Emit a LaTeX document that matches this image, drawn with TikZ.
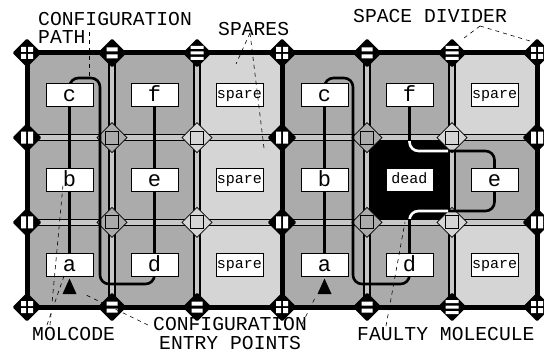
\documentclass[tikz,border=0pt]{standalone}
\usepackage{fontspec}
\newfontfamily\monof{Liberation Mono}
\definecolor{midg}{HTML}{ABABAB}
\definecolor{lightg}{HTML}{D5D5D5}
\definecolor{bandg}{HTML}{C8C8C8}
\tikzset{
  bandblack/.style={line width=7.5pt, black},
  bandgray/.style={line width=4.5pt, bandg},
  thickline/.style={line width=5pt, black},
  pics/bdiam/.style={code={\fill[black, rounded corners=1.2pt] (-14.5,0) -- (0,-14.5) -- (14.5,0) -- (0,14.5) -- cycle;}},
  pics/quadj/.style={code={\pic{bdiam}; \fill[white] (-6,-6) rectangle (-1,-1) (1,-6) rectangle (6,-1) (-6,1) rectangle (-1,6) (1,1) rectangle (6,6);}},
  pics/twoj/.style={code={\pic{bdiam}; \fill[white] (-5.5,-5.5) rectangle (5.5,-1.5) (-5.5,1.5) rectangle (5.5,5.5);}},
  pics/threej/.style={code={\pic{bdiam}; \fill[white] (-6.5,-7) rectangle (6.5,-4) (-6.5,-1.5) rectangle (6.5,1.5) (-6.5,4) rectangle (6.5,7);}},
  pics/iij/.style={code={\pic{bdiam}; \fill[white] (-6,-6) rectangle (-1,6) (1,-6) rectangle (6,6);}},
  pics/gj/.style={code={\filldraw[fill=#1, line width=0.8pt] (-15,0) -- (0,-15) -- (15,0) -- (0,15) -- cycle; \draw[line width=0.8pt] (-6.5,-6.5) rectangle (6.5,6.5);}},
  molbox/.style={draw, fill=white, line width=0.8pt, minimum width=47pt, minimum height=23pt, inner sep=0pt, font=\monof\fontsize{22}{22}\selectfont, text height=13pt, text depth=0pt},
  sparebox/.style={molbox, font=\monof\fontsize{15}{15}\selectfont, text height=7pt, text depth=0pt},
  cfgpath/.style={line width=2.6pt, rounded corners=9pt},
  leader/.style={line width=0.6pt, dash pattern=on 4pt off 4pt},
  lbl/.style={font=\monof\fontsize{19.7}{20}\selectfont, inner sep=0pt, anchor=base west},
  entrytri/.style={fill=black},
}
\begin{document}
\begin{tikzpicture}[x=1pt,y=-1pt]
\useasboundingbox (0,0) rectangle (544,353);
% cells
\foreach \i/\j/\c in {0/0/midg,0/1/midg,0/2/midg,1/0/midg,1/1/midg,1/2/midg,2/0/lightg,2/1/lightg,2/2/lightg,3/0/midg,3/1/midg,3/2/midg,4/0/midg,4/1/black,4/2/midg,5/0/lightg,5/1/midg,5/2/lightg}
  \fill[\c] ({27+85*\i},{53+84.667*\j}) rectangle ++(85,84.667);
% bands
\foreach \x in {112,197,367,452} \draw[bandblack] (\x,53) -- (\x,307);
\foreach \y in {137.67,222.33} \draw[bandblack] (27,\y) -- (537,\y);
\foreach \x in {112,197,367,452} \draw[bandgray] (\x,53) -- (\x,307);
\foreach \y in {137.67,222.33} \draw[bandgray] (27,\y) -- (537,\y);
% thick lines
\draw[thickline] (27,53) rectangle (537,307);
\draw[thickline] (282,53) -- (282,307);
% junctions
\foreach \x/\c in {112/midg,197/lightg,367/midg,452/lightg}
  \foreach \y in {137.67,222.33} \pic at (\x,\y) {gj=\c};
\foreach \x/\t in {27/quadj,112/twoj,197/threej,282/quadj,367/twoj,452/threej,537/quadj} \pic at (\x,53) {\t};
\foreach \x/\t in {27/quadj,112/twoj,197/twoj,282/quadj,367/twoj,452/threej,537/quadj} \pic at (\x,307) {\t};
\foreach \x in {27,282,537} \foreach \y in {137.67,222.33} \pic at (\x,\y) {iij};
% path coordinates
\coordinate (pa1) at (69.5,264.67);
\coordinate (pf1) at (154.5,95.33);
\coordinate (pa2) at (324.5,264.67);
\coordinate (pf2) at (409.5,95.33);
\draw[cfgpath] (pa1) -- (69.5,78) -- (100,78) -- (100,284) -- (154.5,284) -- (pf1);
\draw[cfgpath] (pa2) -- (324.5,78) -- (353,78) -- (353,284) -- (409.5,284) -- (409.5,211) -- (494.5,211) -- (494.5,151) -- (409.5,151) -- (pf2);
\begin{scope}
  \clip (370.8,141.5) rectangle (448.2,218.5);
  \draw[cfgpath, white] (pa2) -- (324.5,78) -- (353,78) -- (353,284) -- (409.5,284) -- (409.5,211) -- (494.5,211) -- (494.5,151) -- (409.5,151) -- (pf2);
\end{scope}
% boxes
\node[molbox] (c1) at (69.5,95.33) {c};
\node[molbox] (f1) at (154.5,95.33) {f};
\node[sparebox] (s1) at (239.5,95.33) {spare};
\node[molbox] (b1) at (69.5,180) {b};
\node[molbox] (e1) at (154.5,180) {e};
\node[sparebox] (s2) at (239.5,180) {spare};
\node[molbox] (a1) at (69.5,264.67) {a};
\node[molbox] (d1) at (154.5,264.67) {d};
\node[sparebox] (s3) at (239.5,264.67) {spare};
\node[molbox] (c2) at (324.5,95.33) {c};
\node[molbox] (f2) at (409.5,95.33) {f};
\node[sparebox] (s4) at (494.5,95.33) {spare};
\node[molbox] (b2) at (324.5,180) {b};
\node[sparebox] (dead) at (409.5,180) {dead};
\node[molbox] (e2) at (494.5,180) {e};
\node[molbox] (a2) at (324.5,264.67) {a};
\node[molbox] (d2) at (409.5,264.67) {d};
\node[sparebox] (s5) at (494.5,264.67) {spare};
% entry triangles
\fill[entrytri] (62.5,294) -- (69.5,278.5) -- (76.5,294) -- cycle;
\fill[entrytri] (317.5,294) -- (324.5,278.5) -- (331.5,294) -- cycle;
% labels
\node[lbl] (lconf) at (38,26) {CONFIGURATION};
\node[lbl] (lpath) at (38,44) {PATH};
\node[lbl] (lspares) at (218,36) {SPARES};
\node[lbl] (ldiv) at (353,23) {SPACE DIVIDER};
\node[lbl] (lmol) at (32,340) {MOLCODE};
\node[lbl] (lconf2) at (153,330.5) {CONFIGURATION};
\node[lbl] (lentry) at (159,349.5) {ENTRY POINTS};
\node[lbl] (lfaulty) at (357,340) {FAULTY MOLECULE};
% leader coordinates
\coordinate (kp1) at (89,32);   \coordinate (kp2) at (89,76);
\coordinate (ks0) at (250,33);  \coordinate (ks1) at (236,64);  \coordinate (ks2) at (264,148);
\coordinate (kd0) at (480,26);  \coordinate (kd1) at (464,38);  \coordinate (kd2) at (530,41);
\coordinate (km1) at (50,325);  \coordinate (km2) at (63,185);
\coordinate (km3) at (47,325);  \coordinate (km4) at (64,276);
\coordinate (ke1) at (148,325); \coordinate (ke2) at (84,294);
\coordinate (ke3) at (302,324); \coordinate (ke4) at (316,296);
\coordinate (kf1) at (386,326); \coordinate (kf2) at (405,222);
\draw[leader] (kp1) -- (kp2);
\draw[leader] (ks0) -- (ks1);
\draw[leader] (ks0) -- (ks2);
\draw[leader] (kd0) -- (kd1);
\draw[leader] (kd0) -- (kd2);
\draw[leader] (km1) -- (km2);
\draw[leader] (km3) -- (km4);
\draw[leader] (ke1) -- (ke2);
\draw[leader] (ke3) -- (ke4);
\draw[leader] (kf1) -- (kf2);
\end{tikzpicture}
\end{document}
